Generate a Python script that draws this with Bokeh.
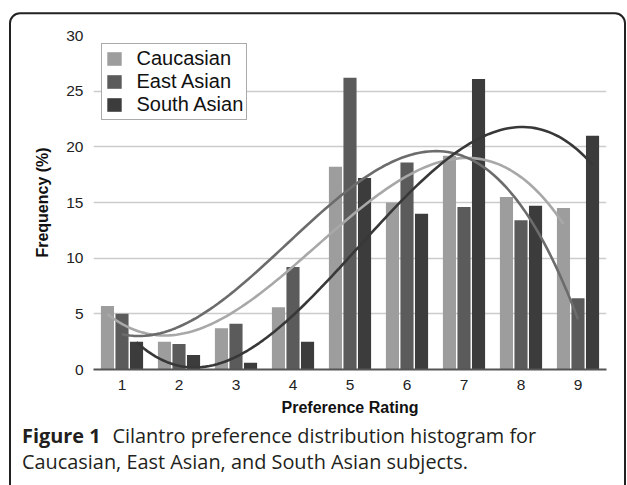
import numpy as np
from urllib.parse import quote
from bokeh.plotting import figure
from bokeh.layouts import column
from bokeh.models import (FixedTicker, Range1d, Legend, LegendItem, Label,
                          ColumnDataSource)
from bokeh.embed import file_html
from bokeh.resources import INLINE

# ---- data ----
ratings = [1, 2, 3, 4, 5, 6, 7, 8, 9]
caucasian = [5.7, 2.5, 3.7, 5.6, 18.2, 15.0, 19.2, 15.5, 14.5]
east_asian = [5.0, 2.3, 4.1, 9.2, 26.2, 18.6, 14.6, 13.4, 6.4]
south_asian = [2.5, 1.3, 0.6, 2.5, 17.2, 14.0, 26.1, 14.7, 21.0]
series_names = ["Caucasian", "East Asian", "South Asian"]
y_ticks = [0, 5, 10, 15, 20, 25, 30]
x_label = "Preference Rating"
y_label = "Frequency (%)"
caption_bold = "Figure 1"
caption_line1 = "Cilantro preference distribution histogram for"
caption_line2 = "Caucasian, East Asian, and South Asian subjects."

# ---- styles ----
bar_colors = ["#9d9d9d", "#5b5b5b", "#3c3c3c"]
curve_colors = ["#a8a8a8", "#6c6c6c", "#383838"]
offsets = [-0.255, 0.0, 0.255]
bar_width = 0.23

W = 627
H_PLOT = 421
H_CAP = 64

p = figure(width=W, height=H_PLOT, output_backend="svg", toolbar_location=None,
           x_range=Range1d(0.5, 9.5), y_range=Range1d(0, 30),
           min_border_left=93, min_border_right=21, min_border_top=35,
           min_border_bottom=52)
p.frame_align = False
p.outline_line_color = None
p.background_fill_color = "white"
p.border_fill_alpha = 0

series = [caucasian, east_asian, south_asian]
bar_renderers = []
for vals, off, bc in zip(series, offsets, bar_colors):
    src = ColumnDataSource(dict(x=[r + off for r in ratings], top=vals))
    r = p.vbar(x="x", top="top", width=bar_width, source=src,
               fill_color=bc, line_color=None)
    bar_renderers.append(r)

# polynomial (cubic) trendlines fitted to each series
xs = np.array(ratings, dtype=float)
xx = np.linspace(xs[0], xs[-1], 120)
for vals, off, cc in zip(series, offsets, curve_colors):
    coef = np.polyfit(xs, np.array(vals), 3)
    yy = np.polyval(coef, xx)
    p.line(x=xx + off, y=yy, line_color=cc, line_width=2.6)

# axes
p.yaxis.ticker = FixedTicker(ticks=y_ticks)
p.xaxis.ticker = FixedTicker(ticks=ratings)
for ax in (p.xaxis, p.yaxis):
    ax.major_tick_line_color = None
    ax.minor_tick_line_color = None
    ax.major_tick_out = 0
    ax.major_label_text_font = "Liberation Sans"
    ax.major_label_text_font_size = "15.5px"
    ax.major_label_text_color = "#222222"
    ax.axis_label_text_font = "Liberation Sans"
    ax.axis_label_text_font_style = "bold"
    ax.axis_label_text_font_size = "16px"
    ax.axis_label_text_color = "#111111"
p.yaxis.axis_line_color = None
p.yaxis.major_label_standoff = 10
p.yaxis.axis_label = y_label
p.yaxis.axis_label_standoff = 12
p.xaxis.axis_line_color = "#555555"
p.xaxis.axis_line_width = 2
p.xaxis.major_label_standoff = 10
p.xaxis.axis_label = x_label
p.xaxis.axis_label_standoff = 6

p.xgrid.grid_line_color = None
p.ygrid.grid_line_color = "#cccccc"
p.ygrid.grid_line_width = 1.5

legend = Legend(items=[LegendItem(label=n, renderers=[r])
                       for n, r in zip(series_names, bar_renderers)],
                location=(7.5, 249.5), margin=0, padding=3,
                glyph_width=18, glyph_height=17, label_standoff=14,
                spacing=0, label_height=17,
                label_text_font="Liberation Sans", label_text_font_size="20px",
                label_text_color="#111111",
                border_line_color="#555555", border_line_width=1,
                background_fill_color="white", background_fill_alpha=1)
p.add_layout(legend)

# caption panel
cap = figure(width=W, height=H_CAP, output_backend="svg", toolbar_location=None,
             x_range=Range1d(0, 1), y_range=Range1d(0, 1),
             x_axis_location=None, y_axis_location=None, min_border=0)
cap.frame_align = False
cap.outline_line_color = None
cap.grid.visible = False
cap.background_fill_alpha = 0
cap.border_fill_alpha = 0
cap_kw = dict(x_units="screen", y_units="screen", text_font="Open Sans",
              text_font_size="19.9px", text_color="#231f20",
              text_baseline="middle")
cap.add_layout(Label(x=21.5, y=50, text=caption_bold, text_font_style="bold", **cap_kw))
cap.add_layout(Label(x=112, y=50, text=caption_line1, **cap_kw))
cap.add_layout(Label(x=21.5, y=24, text=caption_line2, **cap_kw))

# outer rounded panel border (page decoration)
svg = ("<svg xmlns='http://www.w3.org/2000/svg' width='627' height='485'>"
       "<rect x='10' y='13.3' width='615' height='520' rx='10' ry='10' "
       "fill='none' stroke='#222222' stroke-width='2'/></svg>")
bg = 'url("data:image/svg+xml;charset=utf-8,' + quote(svg) + '")'

root = column(p, cap, spacing=0,
              styles={"background-image": bg,
                      "background-repeat": "no-repeat",
                      "background-size": "627px 485px",
                      "background-color": "white"})

open("out.html", "w").write(file_html(root, INLINE))
